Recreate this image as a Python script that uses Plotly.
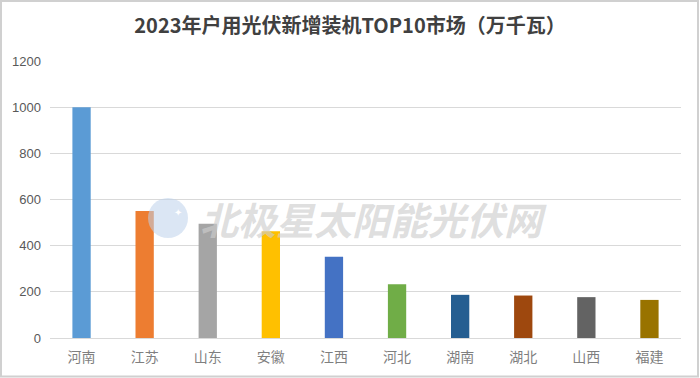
import plotly.graph_objects as go

categories = ["河南", "江苏", "山东", "安徽", "江西", "河北", "湖南", "湖北", "山西", "福建"]
values = [1000, 550, 495, 462, 352, 233, 187, 184, 177, 165]
bar_colors = ["#5B9BD5", "#ED7D31", "#A5A5A5", "#FFC000", "#4472C4",
              "#70AD47", "#255E91", "#9E480E", "#636363", "#997300"]
y_ticks = [0, 200, 400, 600, 800, 1000, 1200]
title_text = "2023年户用光伏新增装机TOP10市场（万千瓦）"
watermark = "北极星太阳能光伏网"

fig = go.Figure()
fig.add_trace(go.Bar(
    x=categories, y=values,
    marker=dict(color=bar_colors, line=dict(width=0)),
    width=0.29,
))

L, R, T, B = 50, 19, 61, 40
W, H = 700, 378
pw, ph = W - L - R, H - T - B

def px(xp):
    return (xp - L) / pw

def py(yp):
    return (H - B - yp) / ph

fig.update_layout(
    width=W, height=H,
    margin=dict(l=L, r=R, t=T, b=B, autoexpand=False),
    paper_bgcolor="white", plot_bgcolor="white",
    showlegend=False,
    title=dict(text="<b>" + title_text + "</b>", x=0.5, xanchor="center",
               y=1 - 26 / H, yanchor="middle",
               font=dict(family="Noto Sans CJK SC", size=20, color="#404040")),
    xaxis=dict(showgrid=False, showline=True, linecolor="#D9D9D9", linewidth=1,
               tickfont=dict(family="Noto Sans CJK SC", size=14, color="#7F7F7F"),
               ticks="", ticklabelstandoff=6, fixedrange=True, automargin=False),
    yaxis=dict(range=[0, 1200], tickvals=y_ticks, showgrid=True, gridcolor="#D9D9D9",
               gridwidth=1, zeroline=False, showline=False,
               tickfont=dict(family="Liberation Sans", size=13, color="#595959"),
               ticks="", ticklabelstandoff=8, fixedrange=True, automargin=False),
)

# outer border
fig.add_shape(type="rect", xref="paper", yref="paper",
              x0=px(1), x1=px(698), y0=py(376.5), y1=py(1),
              line=dict(color="#D0D0D0", width=2), fillcolor="rgba(0,0,0,0)", layer="above")

# watermark logo
fig.add_shape(type="circle", xref="paper", yref="paper",
              x0=px(148), x1=px(188), y0=py(238), y1=py(198),
              line=dict(width=0), fillcolor="rgba(190,210,235,0.55)", layer="above")
fig.add_annotation(xref="paper", yref="paper", x=px(172), y=py(212), text="✦",
                   showarrow=False, font=dict(size=10, color="white"))
# watermark text
fig.add_annotation(xref="paper", yref="paper", x=px(373), y=py(218),
                   text="<b><i>" + watermark + "</i></b>", showarrow=False,
                   xanchor="center", yanchor="middle",
                   font=dict(family="Noto Sans CJK SC", size=38, color="rgba(205,205,205,0.65)"))

fig.write_html("out.html", config={"displayModeBar": False},
               post_script="document.body.style.margin='0';document.body.style.overflow='hidden';")
